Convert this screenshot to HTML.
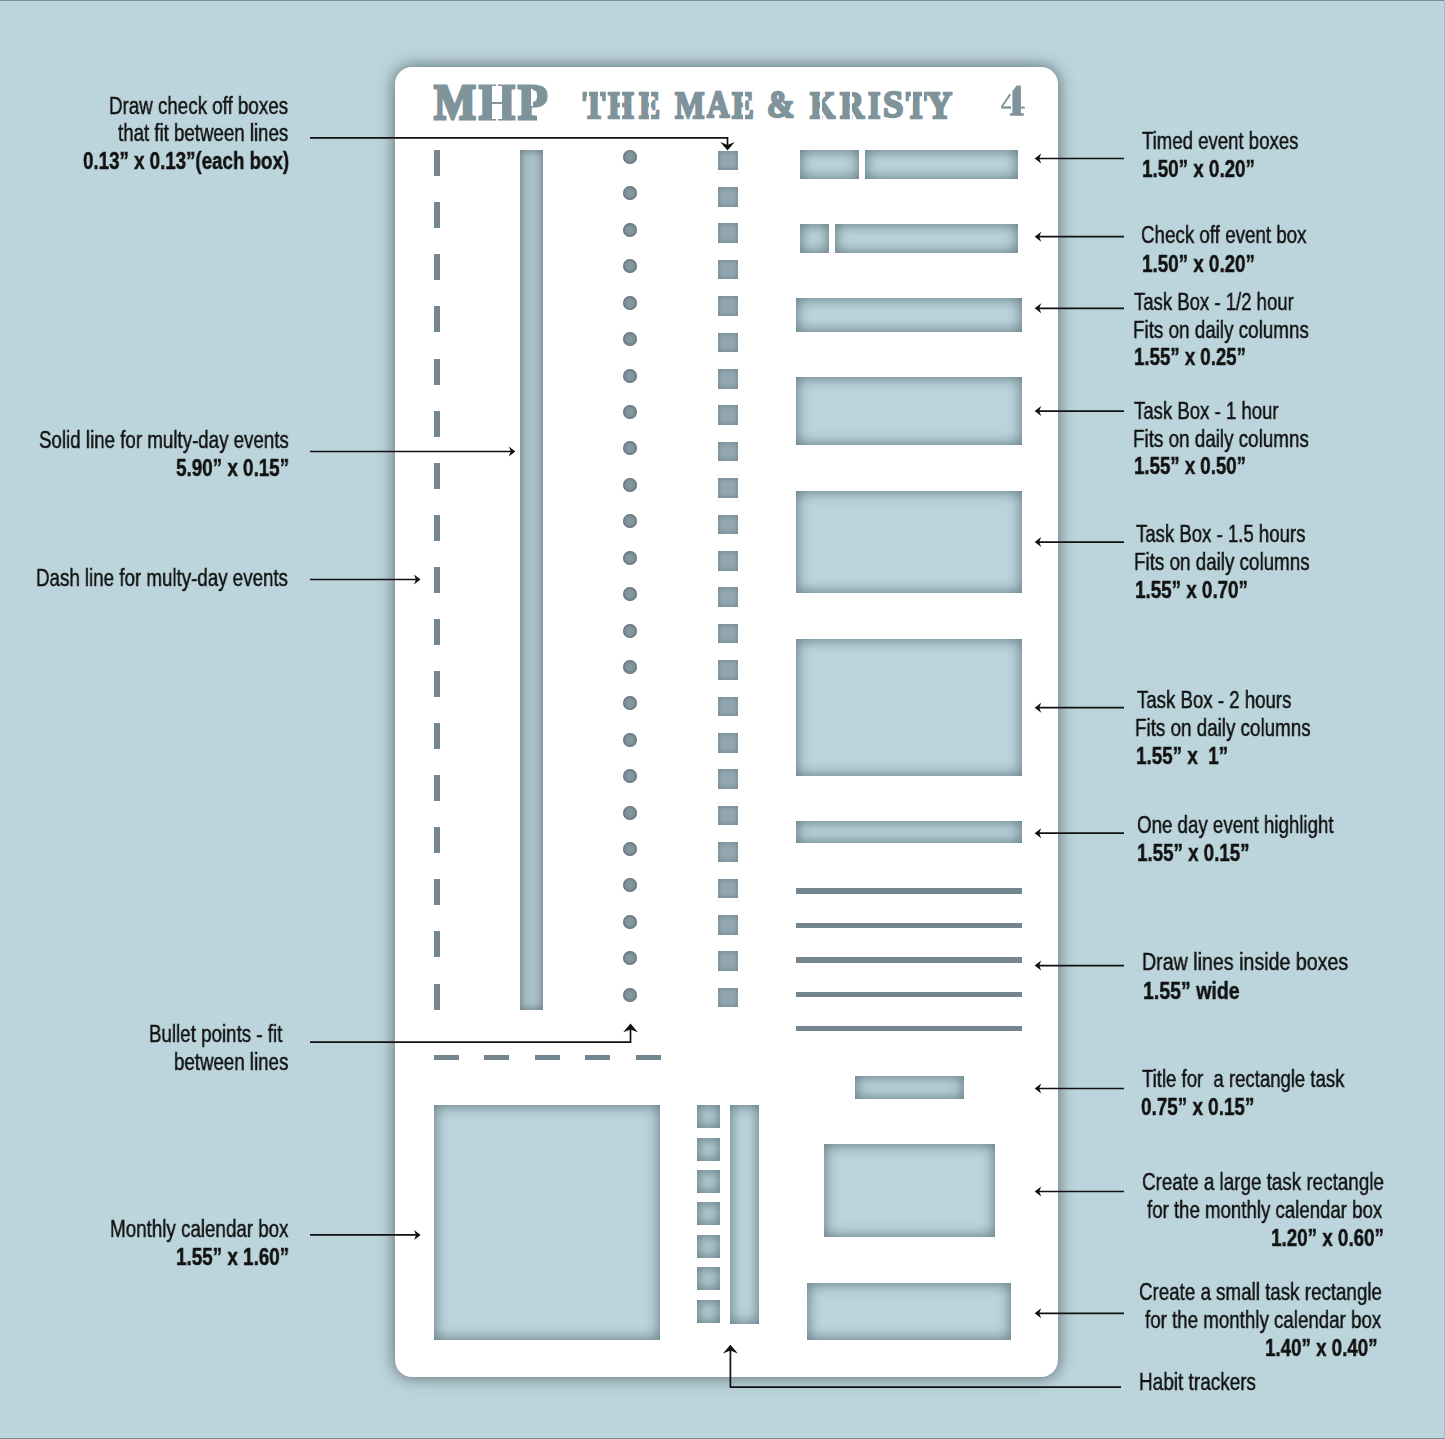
<!DOCTYPE html>
<html><head><meta charset="utf-8"><style>
html,body{margin:0;padding:0}
body{width:1445px;height:1439px;background:#bcd5dc;position:relative;overflow:hidden;font-family:"Liberation Sans",sans-serif}
.t{position:absolute;white-space:nowrap;line-height:1;color:#111;-webkit-text-stroke:0.45px #111;will-change:transform}
#st{position:absolute;left:395px;top:67px;width:663px;height:1310px;border-radius:17px;background:#fff;box-shadow:0 0 16px 1px rgba(66,76,82,.74)}
#st div{position:absolute}
.c{background:#bcd5dc;box-shadow:inset 0 0 14px 1px rgba(50,70,80,.65)}
.n{background:#73868f}
.d{background:#8597a0;border-radius:50%;box-shadow:inset 0 0 3px 1px rgba(60,75,82,.55)}
.h{position:absolute;font-family:"Liberation Serif",serif;font-weight:bold;color:#7f939b;white-space:nowrap;line-height:1}
</style></head><body>

<div style="position:absolute;left:0;top:0;width:1445px;height:1px;background:#7a8c95"></div>
<div style="position:absolute;left:0;top:1438px;width:1445px;height:1px;background:#7a8c95"></div>
<div style="position:absolute;left:1444px;top:0;width:1px;height:1439px;background:#a3bcc4"></div>
<div id="st">
<div class="h" style="left:38.74px;top:9.79px;font-size:100px;transform:scale(0.4442,0.5070);transform-origin:0 0;-webkit-text-stroke:6px #7f939b;">M</div>
<div class="h" style="left:83.56px;top:9.79px;font-size:100px;transform:scale(0.4612,0.5070);transform-origin:0 0;-webkit-text-stroke:6px #7f939b;">H</div>
<div class="h" style="left:123.08px;top:9.79px;font-size:100px;transform:scale(0.4823,0.5070);transform-origin:0 0;-webkit-text-stroke:6px #7f939b;">P</div>
<div class="h" style="left:187.73px;top:19.00px;font-size:100px;transform:scale(0.3333,0.3803);transform-origin:0 0;-webkit-text-stroke:6px #7f939b;">T</div>
<div class="h" style="left:213.33px;top:19.00px;font-size:100px;transform:scale(0.3300,0.3803);transform-origin:0 0;-webkit-text-stroke:6px #7f939b;">H</div>
<div class="h" style="left:243.72px;top:19.00px;font-size:100px;transform:scale(0.3167,0.3803);transform-origin:0 0;-webkit-text-stroke:6px #7f939b;">E</div>
<div class="h" style="left:280.21px;top:19.00px;font-size:100px;transform:scale(0.3126,0.3803);transform-origin:0 0;-webkit-text-stroke:6px #7f939b;">M</div>
<div class="h" style="left:312.22px;top:19.45px;font-size:100px;transform:scale(0.3105,0.3750);transform-origin:0 0;-webkit-text-stroke:6px #7f939b;">A</div>
<div class="h" style="left:336.83px;top:19.00px;font-size:100px;transform:scale(0.3273,0.3803);transform-origin:0 0;-webkit-text-stroke:6px #7f939b;">E</div>
<div class="h" style="left:372.02px;top:18.51px;font-size:100px;transform:scale(0.3282,0.3795);transform-origin:0 0;-webkit-text-stroke:6px #7f939b;">&amp;</div>
<div class="h" style="left:414.82px;top:19.00px;font-size:100px;transform:scale(0.3235,0.3803);transform-origin:0 0;-webkit-text-stroke:6px #7f939b;">K</div>
<div class="h" style="left:445.03px;top:19.00px;font-size:100px;transform:scale(0.3325,0.3803);transform-origin:0 0;-webkit-text-stroke:6px #7f939b;">R</div>
<div class="h" style="left:473.00px;top:19.00px;font-size:100px;transform:scale(0.3205,0.3803);transform-origin:0 0;-webkit-text-stroke:6px #7f939b;">I</div>
<div class="h" style="left:487.97px;top:18.47px;font-size:100px;transform:scale(0.3673,0.3822);transform-origin:0 0;-webkit-text-stroke:6px #7f939b;">S</div>
<div class="h" style="left:510.71px;top:19.00px;font-size:100px;transform:scale(0.3058,0.3803);transform-origin:0 0;-webkit-text-stroke:6px #7f939b;">T</div>
<div class="h" style="left:532.45px;top:19.00px;font-size:100px;transform:scale(0.3473,0.3803);transform-origin:0 0;-webkit-text-stroke:6px #7f939b;">Y</div>
<div style="position:absolute;background:#fff;left:192.40px;top:23.00px;width:2.10px;height:11.50px"></div>
<div style="position:absolute;background:#fff;left:203.30px;top:23.00px;width:1.90px;height:11.50px"></div>
<div style="position:absolute;background:#fff;left:225.30px;top:23.00px;width:1.90px;height:30.00px"></div>
<div style="position:absolute;background:#fff;left:253.60px;top:23.00px;width:2.40px;height:30.00px"></div>
<div style="position:absolute;background:#fff;left:347.80px;top:23.00px;width:1.90px;height:30.00px"></div>
<div style="position:absolute;background:#fff;left:425.00px;top:23.00px;width:2.20px;height:30.00px"></div>
<div style="position:absolute;background:#fff;left:454.80px;top:23.00px;width:2.70px;height:30.00px"></div>
<div style="position:absolute;background:#fff;left:516.20px;top:23.00px;width:2.10px;height:11.50px"></div>
<div style="position:absolute;background:#fff;left:526.70px;top:23.00px;width:2.20px;height:11.50px"></div>
<div style="position:absolute;background:#fff;left:97.30px;top:19.00px;width:9.60px;height:16.30px"></div>
<div style="position:absolute;background:#fff;left:97.30px;top:36.90px;width:9.60px;height:15.10px"></div>
<div style="position:absolute;background:#fff;left:135.60px;top:22.00px;width:2.20px;height:17.00px"></div>
<svg style="position:absolute;left:0;top:0;overflow:visible" width="1" height="1"><g fill="#7f939b" transform="translate(-395,-67)"><path d="M1012.4,91.2 L1016.6,85.4 L1020.9,85.4 L1020.9,114 L1012.4,114Z"/><path d="M1010,113.2 H1023.7 Q1024.2,115.6 1023.4,115.7 H1010.3 Q1009.5,115.6 1010,113.2Z"/><path d="M1009.6,93.6 L1011.0,95.0 L1002.6,107 L1001.0,106.2Z"/><rect x="1001.3" y="106.3" width="9.7" height="2.4"/><rect x="1020.9" y="106.6" width="3.9" height="2.0"/></g></svg>
<div class="n" style="left:39.0px;top:83.2px;width:6.0px;height:26.0px;"></div>
<div class="n" style="left:39.0px;top:135.3px;width:6.0px;height:26.0px;"></div>
<div class="n" style="left:39.0px;top:187.4px;width:6.0px;height:26.0px;"></div>
<div class="n" style="left:39.0px;top:239.4px;width:6.0px;height:26.0px;"></div>
<div class="n" style="left:39.0px;top:291.5px;width:6.0px;height:26.0px;"></div>
<div class="n" style="left:39.0px;top:343.6px;width:6.0px;height:26.0px;"></div>
<div class="n" style="left:39.0px;top:395.7px;width:6.0px;height:26.0px;"></div>
<div class="n" style="left:39.0px;top:447.8px;width:6.0px;height:26.0px;"></div>
<div class="n" style="left:39.0px;top:499.8px;width:6.0px;height:26.0px;"></div>
<div class="n" style="left:39.0px;top:551.9px;width:6.0px;height:26.0px;"></div>
<div class="n" style="left:39.0px;top:604.0px;width:6.0px;height:26.0px;"></div>
<div class="n" style="left:39.0px;top:656.1px;width:6.0px;height:26.0px;"></div>
<div class="n" style="left:39.0px;top:708.2px;width:6.0px;height:26.0px;"></div>
<div class="n" style="left:39.0px;top:760.2px;width:6.0px;height:26.0px;"></div>
<div class="n" style="left:39.0px;top:812.3px;width:6.0px;height:26.0px;"></div>
<div class="n" style="left:39.0px;top:864.4px;width:6.0px;height:26.0px;"></div>
<div class="n" style="left:39.0px;top:916.5px;width:6.0px;height:26.0px;"></div>
<div class="c" style="left:125.0px;top:83.0px;width:23.0px;height:860.0px;background:#abc2c9;box-shadow:inset 0 0 9px 1px rgba(60,72,78,.6)"></div>
<div class="d" style="left:228.0px;top:83.0px;width:14.0px;height:14.0px;"></div>
<div class="d" style="left:228.0px;top:119.4px;width:14.0px;height:14.0px;"></div>
<div class="d" style="left:228.0px;top:155.8px;width:14.0px;height:14.0px;"></div>
<div class="d" style="left:228.0px;top:192.3px;width:14.0px;height:14.0px;"></div>
<div class="d" style="left:228.0px;top:228.7px;width:14.0px;height:14.0px;"></div>
<div class="d" style="left:228.0px;top:265.1px;width:14.0px;height:14.0px;"></div>
<div class="d" style="left:228.0px;top:301.5px;width:14.0px;height:14.0px;"></div>
<div class="d" style="left:228.0px;top:337.9px;width:14.0px;height:14.0px;"></div>
<div class="d" style="left:228.0px;top:374.4px;width:14.0px;height:14.0px;"></div>
<div class="d" style="left:228.0px;top:410.8px;width:14.0px;height:14.0px;"></div>
<div class="d" style="left:228.0px;top:447.2px;width:14.0px;height:14.0px;"></div>
<div class="d" style="left:228.0px;top:483.6px;width:14.0px;height:14.0px;"></div>
<div class="d" style="left:228.0px;top:520.0px;width:14.0px;height:14.0px;"></div>
<div class="d" style="left:228.0px;top:556.5px;width:14.0px;height:14.0px;"></div>
<div class="d" style="left:228.0px;top:592.9px;width:14.0px;height:14.0px;"></div>
<div class="d" style="left:228.0px;top:629.3px;width:14.0px;height:14.0px;"></div>
<div class="d" style="left:228.0px;top:665.7px;width:14.0px;height:14.0px;"></div>
<div class="d" style="left:228.0px;top:702.1px;width:14.0px;height:14.0px;"></div>
<div class="d" style="left:228.0px;top:738.6px;width:14.0px;height:14.0px;"></div>
<div class="d" style="left:228.0px;top:775.0px;width:14.0px;height:14.0px;"></div>
<div class="d" style="left:228.0px;top:811.4px;width:14.0px;height:14.0px;"></div>
<div class="d" style="left:228.0px;top:847.8px;width:14.0px;height:14.0px;"></div>
<div class="d" style="left:228.0px;top:884.2px;width:14.0px;height:14.0px;"></div>
<div class="d" style="left:228.0px;top:920.7px;width:14.0px;height:14.0px;"></div>
<div class="c" style="left:323.0px;top:83.6px;width:20.0px;height:19.5px;background:#93a7b0;box-shadow:inset 0 0 5px rgba(55,75,85,.45)"></div>
<div class="c" style="left:323.0px;top:120.0px;width:20.0px;height:19.5px;background:#93a7b0;box-shadow:inset 0 0 5px rgba(55,75,85,.45)"></div>
<div class="c" style="left:323.0px;top:156.4px;width:20.0px;height:19.5px;background:#93a7b0;box-shadow:inset 0 0 5px rgba(55,75,85,.45)"></div>
<div class="c" style="left:323.0px;top:192.8px;width:20.0px;height:19.5px;background:#93a7b0;box-shadow:inset 0 0 5px rgba(55,75,85,.45)"></div>
<div class="c" style="left:323.0px;top:229.2px;width:20.0px;height:19.5px;background:#93a7b0;box-shadow:inset 0 0 5px rgba(55,75,85,.45)"></div>
<div class="c" style="left:323.0px;top:265.6px;width:20.0px;height:19.5px;background:#93a7b0;box-shadow:inset 0 0 5px rgba(55,75,85,.45)"></div>
<div class="c" style="left:323.0px;top:302.0px;width:20.0px;height:19.5px;background:#93a7b0;box-shadow:inset 0 0 5px rgba(55,75,85,.45)"></div>
<div class="c" style="left:323.0px;top:338.4px;width:20.0px;height:19.5px;background:#93a7b0;box-shadow:inset 0 0 5px rgba(55,75,85,.45)"></div>
<div class="c" style="left:323.0px;top:374.8px;width:20.0px;height:19.5px;background:#93a7b0;box-shadow:inset 0 0 5px rgba(55,75,85,.45)"></div>
<div class="c" style="left:323.0px;top:411.2px;width:20.0px;height:19.5px;background:#93a7b0;box-shadow:inset 0 0 5px rgba(55,75,85,.45)"></div>
<div class="c" style="left:323.0px;top:447.6px;width:20.0px;height:19.5px;background:#93a7b0;box-shadow:inset 0 0 5px rgba(55,75,85,.45)"></div>
<div class="c" style="left:323.0px;top:484.0px;width:20.0px;height:19.5px;background:#93a7b0;box-shadow:inset 0 0 5px rgba(55,75,85,.45)"></div>
<div class="c" style="left:323.0px;top:520.4px;width:20.0px;height:19.5px;background:#93a7b0;box-shadow:inset 0 0 5px rgba(55,75,85,.45)"></div>
<div class="c" style="left:323.0px;top:556.8px;width:20.0px;height:19.5px;background:#93a7b0;box-shadow:inset 0 0 5px rgba(55,75,85,.45)"></div>
<div class="c" style="left:323.0px;top:593.2px;width:20.0px;height:19.5px;background:#93a7b0;box-shadow:inset 0 0 5px rgba(55,75,85,.45)"></div>
<div class="c" style="left:323.0px;top:629.6px;width:20.0px;height:19.5px;background:#93a7b0;box-shadow:inset 0 0 5px rgba(55,75,85,.45)"></div>
<div class="c" style="left:323.0px;top:666.0px;width:20.0px;height:19.5px;background:#93a7b0;box-shadow:inset 0 0 5px rgba(55,75,85,.45)"></div>
<div class="c" style="left:323.0px;top:702.4px;width:20.0px;height:19.5px;background:#93a7b0;box-shadow:inset 0 0 5px rgba(55,75,85,.45)"></div>
<div class="c" style="left:323.0px;top:738.8px;width:20.0px;height:19.5px;background:#93a7b0;box-shadow:inset 0 0 5px rgba(55,75,85,.45)"></div>
<div class="c" style="left:323.0px;top:775.2px;width:20.0px;height:19.5px;background:#93a7b0;box-shadow:inset 0 0 5px rgba(55,75,85,.45)"></div>
<div class="c" style="left:323.0px;top:811.6px;width:20.0px;height:19.5px;background:#93a7b0;box-shadow:inset 0 0 5px rgba(55,75,85,.45)"></div>
<div class="c" style="left:323.0px;top:848.0px;width:20.0px;height:19.5px;background:#93a7b0;box-shadow:inset 0 0 5px rgba(55,75,85,.45)"></div>
<div class="c" style="left:323.0px;top:884.4px;width:20.0px;height:19.5px;background:#93a7b0;box-shadow:inset 0 0 5px rgba(55,75,85,.45)"></div>
<div class="c" style="left:323.0px;top:920.8px;width:20.0px;height:19.5px;background:#93a7b0;box-shadow:inset 0 0 5px rgba(55,75,85,.45)"></div>
<div class="c" style="left:405.2px;top:83.3px;width:58.6px;height:28.6px;"></div>
<div class="c" style="left:470.1px;top:83.3px;width:153.3px;height:28.6px;"></div>
<div class="c" style="left:405.2px;top:156.9px;width:28.7px;height:29.0px;"></div>
<div class="c" style="left:440.2px;top:156.9px;width:183.2px;height:29.0px;"></div>
<div class="c" style="left:401.2px;top:231.0px;width:226.3px;height:33.8px;"></div>
<div class="c" style="left:401.2px;top:310.2px;width:226.3px;height:68.0px;"></div>
<div class="c" style="left:401.2px;top:423.7px;width:226.3px;height:102.7px;"></div>
<div class="c" style="left:401.2px;top:571.6px;width:226.3px;height:137.2px;"></div>
<div class="c" style="left:401.2px;top:753.9px;width:226.2px;height:22.2px;"></div>
<div class="n" style="left:401.2px;top:821.3px;width:226.2px;height:5.4px;"></div>
<div class="n" style="left:401.2px;top:855.8px;width:226.2px;height:5.4px;"></div>
<div class="n" style="left:401.2px;top:890.3px;width:226.2px;height:5.4px;"></div>
<div class="n" style="left:401.2px;top:924.7px;width:226.2px;height:5.4px;"></div>
<div class="n" style="left:401.2px;top:958.8px;width:226.2px;height:5.4px;"></div>
<div class="c" style="left:460.0px;top:1009.2px;width:108.8px;height:22.8px;"></div>
<div class="n" style="left:38.8px;top:987.6px;width:25.0px;height:5.6px;"></div>
<div class="n" style="left:89.3px;top:987.6px;width:25.0px;height:5.6px;"></div>
<div class="n" style="left:139.8px;top:987.6px;width:25.0px;height:5.6px;"></div>
<div class="n" style="left:190.3px;top:987.6px;width:25.0px;height:5.6px;"></div>
<div class="n" style="left:240.8px;top:987.6px;width:25.0px;height:5.6px;"></div>
<div class="c" style="left:39.2px;top:1038.0px;width:226.2px;height:234.6px;"></div>
<div class="c" style="left:301.5px;top:1038.0px;width:23.9px;height:23.1px;"></div>
<div class="c" style="left:301.5px;top:1070.5px;width:23.9px;height:23.1px;"></div>
<div class="c" style="left:301.5px;top:1102.9px;width:23.9px;height:23.1px;"></div>
<div class="c" style="left:301.5px;top:1135.3px;width:23.9px;height:23.1px;"></div>
<div class="c" style="left:301.5px;top:1167.8px;width:23.9px;height:23.1px;"></div>
<div class="c" style="left:301.5px;top:1200.2px;width:23.9px;height:23.1px;"></div>
<div class="c" style="left:301.5px;top:1232.7px;width:23.9px;height:23.1px;"></div>
<div class="c" style="left:334.7px;top:1038.0px;width:29.1px;height:218.7px;"></div>
<div class="c" style="left:429.2px;top:1076.9px;width:170.4px;height:93.4px;"></div>
<div class="c" style="left:412.1px;top:1215.8px;width:204.2px;height:57.2px;"></div>
</div>
<div class="t" style="left:109.37px;top:94.53px;font-size:23px;font-weight:normal;transform:scaleX(0.8157);transform-origin:0 0">Draw check off boxes</div>
<div class="t" style="left:118.40px;top:122.33px;font-size:23px;font-weight:normal;transform:scaleX(0.8115);transform-origin:0 0">that fit between lines</div>
<div class="t" style="left:82.79px;top:149.73px;font-size:23px;font-weight:bold;transform:scaleX(0.8143);transform-origin:0 0">0.13” x 0.13”(each box)</div>
<div class="t" style="left:38.79px;top:428.93px;font-size:23px;font-weight:normal;transform:scaleX(0.8144);transform-origin:0 0">Solid line for multy-day events</div>
<div class="t" style="left:176.18px;top:456.93px;font-size:23px;font-weight:bold;transform:scaleX(0.8193);transform-origin:0 0">5.90” x 0.15”</div>
<div class="t" style="left:36.37px;top:567.33px;font-size:23px;font-weight:normal;transform:scaleX(0.8143);transform-origin:0 0">Dash line for multy-day events</div>
<div class="t" style="left:149.37px;top:1022.93px;font-size:23px;font-weight:normal;transform:scaleX(0.8148);transform-origin:0 0">Bullet points - fit</div>
<div class="t" style="left:174.19px;top:1050.93px;font-size:23px;font-weight:normal;transform:scaleX(0.8129);transform-origin:0 0">between lines</div>
<div class="t" style="left:109.97px;top:1217.93px;font-size:23px;font-weight:normal;transform:scaleX(0.8167);transform-origin:0 0">Monthly calendar box</div>
<div class="t" style="left:176.18px;top:1245.93px;font-size:23px;font-weight:bold;transform:scaleX(0.8193);transform-origin:0 0">1.55” x 1.60”</div>
<div class="t" style="left:1142.00px;top:130.33px;font-size:23px;font-weight:normal;transform:scaleX(0.8083);transform-origin:0 0">Timed event boxes</div>
<div class="t" style="left:1141.78px;top:158.33px;font-size:23px;font-weight:bold;transform:scaleX(0.8178);transform-origin:0 0">1.50” x 0.20”</div>
<div class="t" style="left:1141.18px;top:224.43px;font-size:23px;font-weight:normal;transform:scaleX(0.8159);transform-origin:0 0">Check off event box</div>
<div class="t" style="left:1141.78px;top:252.93px;font-size:23px;font-weight:bold;transform:scaleX(0.8178);transform-origin:0 0">1.50” x 0.20”</div>
<div class="t" style="left:1134.40px;top:290.53px;font-size:23px;font-weight:normal;transform:scaleX(0.8061);transform-origin:0 0">Task Box - 1/2 hour</div>
<div class="t" style="left:1132.76px;top:318.53px;font-size:23px;font-weight:normal;transform:scaleX(0.8189);transform-origin:0 0">Fits on daily columns</div>
<div class="t" style="left:1134.19px;top:346.43px;font-size:23px;font-weight:bold;transform:scaleX(0.8104);transform-origin:0 0">1.55” x 0.25”</div>
<div class="t" style="left:1134.40px;top:399.63px;font-size:23px;font-weight:normal;transform:scaleX(0.8078);transform-origin:0 0">Task Box - 1 hour</div>
<div class="t" style="left:1132.76px;top:427.53px;font-size:23px;font-weight:normal;transform:scaleX(0.8189);transform-origin:0 0">Fits on daily columns</div>
<div class="t" style="left:1134.19px;top:455.43px;font-size:23px;font-weight:bold;transform:scaleX(0.8104);transform-origin:0 0">1.55” x 0.50”</div>
<div class="t" style="left:1135.60px;top:522.93px;font-size:23px;font-weight:normal;transform:scaleX(0.8077);transform-origin:0 0">Task Box - 1.5 hours</div>
<div class="t" style="left:1133.96px;top:550.93px;font-size:23px;font-weight:normal;transform:scaleX(0.8179);transform-origin:0 0">Fits on daily columns</div>
<div class="t" style="left:1135.18px;top:578.93px;font-size:23px;font-weight:bold;transform:scaleX(0.8178);transform-origin:0 0">1.55” x 0.70”</div>
<div class="t" style="left:1137.00px;top:688.93px;font-size:23px;font-weight:normal;transform:scaleX(0.8105);transform-origin:0 0">Task Box - 2 hours</div>
<div class="t" style="left:1135.36px;top:716.93px;font-size:23px;font-weight:normal;transform:scaleX(0.8179);transform-origin:0 0">Fits on daily columns</div>
<div class="t" style="left:1136.18px;top:744.93px;font-size:23px;font-weight:bold;transform:scaleX(0.8182);transform-origin:0 0">1.55” x&nbsp; 1”</div>
<div class="t" style="left:1136.79px;top:813.93px;font-size:23px;font-weight:normal;transform:scaleX(0.8133);transform-origin:0 0">One day event highlight</div>
<div class="t" style="left:1137.19px;top:841.63px;font-size:23px;font-weight:bold;transform:scaleX(0.8148);transform-origin:0 0">1.55” x 0.15”</div>
<div class="t" style="left:1141.89px;top:951.33px;font-size:23px;font-weight:normal;transform:scaleX(0.8536);transform-origin:0 0">Draw lines inside boxes</div>
<div class="t" style="left:1143.15px;top:980.43px;font-size:23px;font-weight:bold;transform:scaleX(0.8482);transform-origin:0 0">1.55” wide</div>
<div class="t" style="left:1142.00px;top:1068.33px;font-size:23px;font-weight:normal;transform:scaleX(0.8064);transform-origin:0 0">Title for&nbsp; a rectangle task</div>
<div class="t" style="left:1140.78px;top:1095.93px;font-size:23px;font-weight:bold;transform:scaleX(0.8207);transform-origin:0 0">0.75” x 0.15”</div>
<div class="t" style="left:1141.58px;top:1171.43px;font-size:23px;font-weight:normal;transform:scaleX(0.8191);transform-origin:0 0">Create a large task rectangle</div>
<div class="t" style="left:1147.00px;top:1199.43px;font-size:23px;font-weight:normal;transform:scaleX(0.8103);transform-origin:0 0">for the monthly calendar box</div>
<div class="t" style="left:1270.78px;top:1226.93px;font-size:23px;font-weight:bold;transform:scaleX(0.8178);transform-origin:0 0">1.20” x 0.60”</div>
<div class="t" style="left:1138.78px;top:1280.73px;font-size:23px;font-weight:normal;transform:scaleX(0.8155);transform-origin:0 0">Create a small task rectangle</div>
<div class="t" style="left:1145.00px;top:1308.93px;font-size:23px;font-weight:normal;transform:scaleX(0.8138);transform-origin:0 0">for the monthly calendar box</div>
<div class="t" style="left:1264.79px;top:1336.53px;font-size:23px;font-weight:bold;transform:scaleX(0.8148);transform-origin:0 0">1.40” x 0.40”</div>
<div class="t" style="left:1139.35px;top:1370.93px;font-size:23px;font-weight:normal;transform:scaleX(0.8245);transform-origin:0 0">Habit trackers</div>
<svg width="1445" height="1439" style="position:absolute;left:0;top:0"><g stroke="#111" stroke-width="1.7" fill="none"><path d="M1124,158.5 H1038"/><path d="M1124,236.7 H1038"/><path d="M1124,308.3 H1038"/><path d="M1124,411.1 H1038"/><path d="M1124,542.1 H1038"/><path d="M1124,707.7 H1038"/><path d="M1124,833.2 H1038"/><path d="M1124,965.6 H1038"/><path d="M1124,1088.5 H1038"/><path d="M1124,1191.5 H1038"/><path d="M1124,1313.3 H1038"/><path d="M310,137.8 H727.5 V147"/><path d="M310,451.5 H511"/><path d="M310,579.5 H416"/><path d="M310,1042.1 H630.5 V1027"/><path d="M310,1234.9 H416"/><path d="M1121,1387.2 H730.4 V1348"/></g><g fill="#111"><path d="M1034.70,158.50 L1041.20,153.50 L1039.20,158.50 L1041.20,163.50Z"/><path d="M1034.70,236.70 L1041.20,231.70 L1039.20,236.70 L1041.20,241.70Z"/><path d="M1034.70,308.30 L1041.20,303.30 L1039.20,308.30 L1041.20,313.30Z"/><path d="M1034.70,411.10 L1041.20,406.10 L1039.20,411.10 L1041.20,416.10Z"/><path d="M1034.70,542.10 L1041.20,537.10 L1039.20,542.10 L1041.20,547.10Z"/><path d="M1034.70,707.70 L1041.20,702.70 L1039.20,707.70 L1041.20,712.70Z"/><path d="M1034.70,833.20 L1041.20,828.20 L1039.20,833.20 L1041.20,838.20Z"/><path d="M1034.70,965.60 L1041.20,960.60 L1039.20,965.60 L1041.20,970.60Z"/><path d="M1034.70,1088.50 L1041.20,1083.50 L1039.20,1088.50 L1041.20,1093.50Z"/><path d="M1034.70,1191.50 L1041.20,1186.50 L1039.20,1191.50 L1041.20,1196.50Z"/><path d="M1034.70,1313.30 L1041.20,1308.30 L1039.20,1313.30 L1041.20,1318.30Z"/><path d="M727.50,150.60 L720.30,142.00 L727.50,145.00 L734.70,142.00Z"/><path d="M515.30,451.50 L508.80,446.50 L510.80,451.50 L508.80,456.50Z"/><path d="M420.50,579.50 L414.00,574.50 L416.00,579.50 L414.00,584.50Z"/><path d="M630.50,1023.50 L623.20,1032.30 L630.50,1029.50 L637.80,1032.30Z"/><path d="M420.60,1234.90 L414.10,1229.90 L416.10,1234.90 L414.10,1239.90Z"/><path d="M730.40,1344.80 L722.90,1353.60 L730.40,1350.60 L737.90,1353.60Z"/></g></svg>
</body></html>
